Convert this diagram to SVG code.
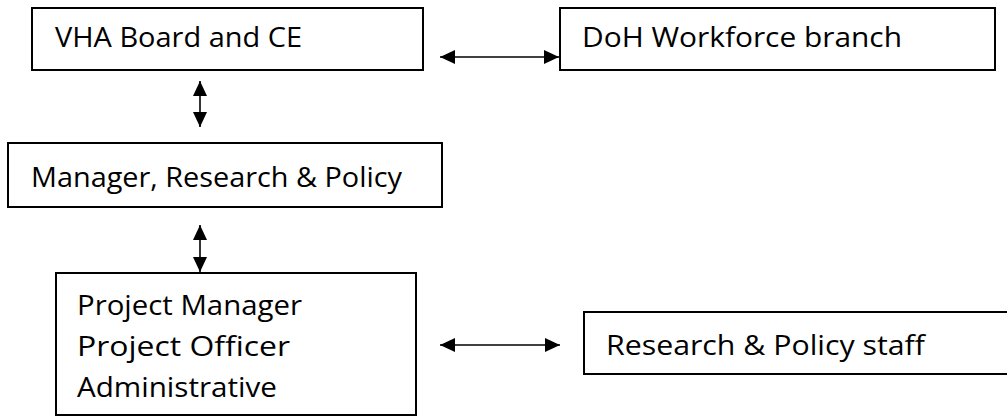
<svg xmlns="http://www.w3.org/2000/svg" width="1007" height="416" viewBox="0 0 1007 416">
  <style>
    .box { fill: #ffffff; stroke: #000000; stroke-width: 2; }
    .lbl { font-family: "Open Sans", "DejaVu Sans", sans-serif; font-size: 26.7px; fill: #000000; }
    .conn { stroke: #000000; stroke-width: 1.6; fill: none; marker-start: url(#head); marker-end: url(#head); }
  </style>
  <defs>
    <marker id="head" viewBox="0 0 15 14" refX="15" refY="7" markerWidth="15" markerHeight="14" markerUnits="userSpaceOnUse" orient="auto-start-reverse">
      <path d="M0,0 L15,7 L0,14 Z" fill="#000000"/>
    </marker>
  </defs>
  <rect width="1007" height="416" fill="#ffffff"/>

  <g id="vha">
    <rect class="box" x="32" y="8" width="391" height="62"/>
    <text class="lbl" x="55" y="47" textLength="247" lengthAdjust="spacingAndGlyphs">VHA Board and CE</text>
  </g>
  <g id="doh">
    <rect class="box" x="560" y="8" width="435" height="62"/>
    <text class="lbl" x="582" y="47" textLength="320" lengthAdjust="spacingAndGlyphs">DoH Workforce branch</text>
  </g>
  <g id="manager">
    <rect class="box" x="8" y="143" width="434" height="64"/>
    <text class="lbl" x="31" y="187" textLength="371" lengthAdjust="spacingAndGlyphs">Manager, Research &amp; Policy</text>
  </g>
  <g id="project">
    <rect class="box" x="56" y="273" width="360" height="142"/>
    <text class="lbl" x="77" y="315" textLength="225" lengthAdjust="spacingAndGlyphs">Project Manager</text>
    <text class="lbl" x="77" y="356" textLength="213" lengthAdjust="spacingAndGlyphs">Project Officer</text>
    <text class="lbl" x="77" y="397" textLength="200" lengthAdjust="spacingAndGlyphs">Administrative</text>
  </g>
  <g id="staff">
    <rect class="box" x="584" y="312" width="430" height="62"/>
    <text class="lbl" x="606" y="355" textLength="319" lengthAdjust="spacingAndGlyphs">Research &amp; Policy staff</text>
  </g>

  <g id="connectors">
    <line class="conn" x1="440" y1="57" x2="559" y2="57"/>
    <line class="conn" x1="200" y1="81" x2="200" y2="127"/>
    <line class="conn" x1="200" y1="225" x2="200" y2="272"/>
    <line class="conn" x1="440" y1="345" x2="560" y2="345"/>
  </g>
</svg>
